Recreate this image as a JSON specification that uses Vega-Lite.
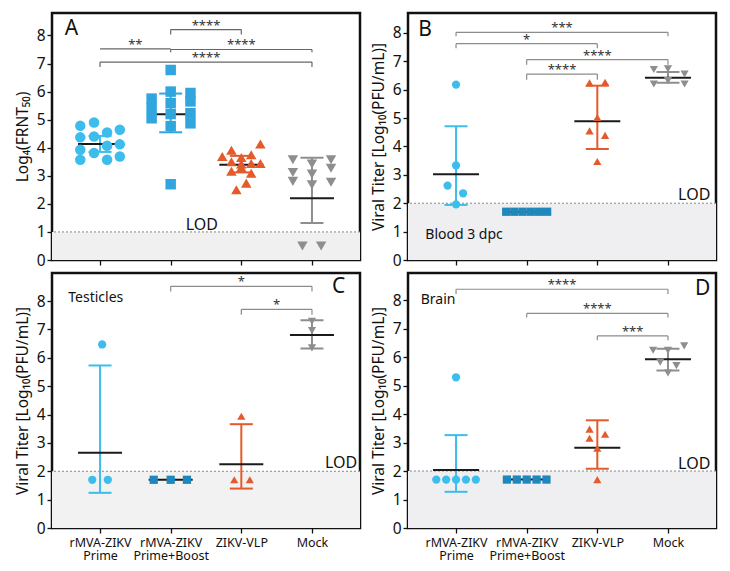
{
  "$schema": "https://vega.github.io/schema/vega-lite/v6.json",
  "padding": {"left": 13, "top": 11, "right": 5, "bottom": 5},
  "config": {
    "font": "Noto Sans",
    "view": {"stroke": "#111", "strokeWidth": 2.5},
    "axis": {"grid": false, "domain": false, "tickColor": "#111", "tickWidth": 1.3, "tickSize": 5, "labelColor": "#111", "titleColor": "#111", "labelFont": "Noto Sans", "titleFont": "Noto Sans", "titleFontWeight": "normal", "labelOverlap": false},
    "axisY": {"labelFontSize": 15.5, "titleFontSize": 15.5, "labelPadding": 2, "titlePadding": 6, "tickCount": 9},
    "axisX": {"labelFontSize": 12.5, "labelAngle": 0, "labelPadding": 3, "labelLineHeight": 13.5, "labelBaseline": "top", "labelFlush": false},
    "text": {"font": "Noto Sans", "color": "#111"}
  },
  "datasets": {
    "lod": [{"p": "A", "base": 0, "lod": 1}, {"p": "B", "base": 0, "lod": 2}, {"p": "C", "base": 0, "lod": 2}, {"p": "D", "base": 0, "lod": 2}],
    "pts": [
      {"p": "A", "g": "rMVA-ZIKV Prime", "v": 4.78, "dx": -0.28},
      {"p": "A", "g": "rMVA-ZIKV Prime", "v": 4.37, "dx": -0.28},
      {"p": "A", "g": "rMVA-ZIKV Prime", "v": 3.93, "dx": -0.28},
      {"p": "A", "g": "rMVA-ZIKV Prime", "v": 3.57, "dx": -0.28},
      {"p": "A", "g": "rMVA-ZIKV Prime", "v": 4.9, "dx": -0.085},
      {"p": "A", "g": "rMVA-ZIKV Prime", "v": 4.4, "dx": -0.085},
      {"p": "A", "g": "rMVA-ZIKV Prime", "v": 3.81, "dx": -0.085},
      {"p": "A", "g": "rMVA-ZIKV Prime", "v": 4.54, "dx": 0.1},
      {"p": "A", "g": "rMVA-ZIKV Prime", "v": 4.07, "dx": 0.1},
      {"p": "A", "g": "rMVA-ZIKV Prime", "v": 3.57, "dx": 0.1},
      {"p": "A", "g": "rMVA-ZIKV Prime", "v": 4.64, "dx": 0.28},
      {"p": "A", "g": "rMVA-ZIKV Prime", "v": 4.12, "dx": 0.28},
      {"p": "A", "g": "rMVA-ZIKV Prime", "v": 3.69, "dx": 0.28},
      {"p": "A", "g": "rMVA-ZIKV Prime+Boost", "v": 5.75, "dx": -0.27},
      {"p": "A", "g": "rMVA-ZIKV Prime+Boost", "v": 5.41, "dx": -0.27},
      {"p": "A", "g": "rMVA-ZIKV Prime+Boost", "v": 5.05, "dx": -0.27},
      {"p": "A", "g": "rMVA-ZIKV Prime+Boost", "v": 6.77, "dx": 0},
      {"p": "A", "g": "rMVA-ZIKV Prime+Boost", "v": 6.0, "dx": 0},
      {"p": "A", "g": "rMVA-ZIKV Prime+Boost", "v": 5.59, "dx": 0},
      {"p": "A", "g": "rMVA-ZIKV Prime+Boost", "v": 5.2, "dx": 0},
      {"p": "A", "g": "rMVA-ZIKV Prime+Boost", "v": 4.77, "dx": 0},
      {"p": "A", "g": "rMVA-ZIKV Prime+Boost", "v": 2.7, "dx": 0},
      {"p": "A", "g": "rMVA-ZIKV Prime+Boost", "v": 5.95, "dx": 0.28},
      {"p": "A", "g": "rMVA-ZIKV Prime+Boost", "v": 5.65, "dx": 0.28},
      {"p": "A", "g": "rMVA-ZIKV Prime+Boost", "v": 5.23, "dx": 0.28},
      {"p": "A", "g": "rMVA-ZIKV Prime+Boost", "v": 4.87, "dx": 0.28},
      {"p": "A", "g": "ZIKV-VLP", "v": 3.69, "dx": -0.27},
      {"p": "A", "g": "ZIKV-VLP", "v": 3.91, "dx": -0.14},
      {"p": "A", "g": "ZIKV-VLP", "v": 3.65, "dx": 0},
      {"p": "A", "g": "ZIKV-VLP", "v": 3.75, "dx": 0.14},
      {"p": "A", "g": "ZIKV-VLP", "v": 4.13, "dx": 0.27},
      {"p": "A", "g": "ZIKV-VLP", "v": 3.5, "dx": -0.14},
      {"p": "A", "g": "ZIKV-VLP", "v": 3.42, "dx": 0},
      {"p": "A", "g": "ZIKV-VLP", "v": 3.44, "dx": 0.14},
      {"p": "A", "g": "ZIKV-VLP", "v": 3.44, "dx": 0.27},
      {"p": "A", "g": "ZIKV-VLP", "v": 3.16, "dx": -0.14},
      {"p": "A", "g": "ZIKV-VLP", "v": 3.3, "dx": 0},
      {"p": "A", "g": "ZIKV-VLP", "v": 3.09, "dx": 0.14},
      {"p": "A", "g": "ZIKV-VLP", "v": 2.74, "dx": 0.07},
      {"p": "A", "g": "ZIKV-VLP", "v": 2.5, "dx": -0.07},
      {"p": "A", "g": "Mock", "v": 3.57, "dx": -0.27},
      {"p": "A", "g": "Mock", "v": 3.12, "dx": -0.27},
      {"p": "A", "g": "Mock", "v": 2.8, "dx": -0.27},
      {"p": "A", "g": "Mock", "v": 3.42, "dx": 0},
      {"p": "A", "g": "Mock", "v": 3.06, "dx": 0},
      {"p": "A", "g": "Mock", "v": 2.68, "dx": 0},
      {"p": "A", "g": "Mock", "v": 3.57, "dx": 0.27},
      {"p": "A", "g": "Mock", "v": 3.27, "dx": 0.27},
      {"p": "A", "g": "Mock", "v": 2.77, "dx": 0.27},
      {"p": "A", "g": "Mock", "v": 0.5, "dx": -0.135},
      {"p": "A", "g": "Mock", "v": 0.5, "dx": 0.13},
      {"p": "B", "g": "rMVA-ZIKV Prime", "v": 6.18, "dx": 0},
      {"p": "B", "g": "rMVA-ZIKV Prime", "v": 3.33, "dx": 0},
      {"p": "B", "g": "rMVA-ZIKV Prime", "v": 2.62, "dx": -0.12},
      {"p": "B", "g": "rMVA-ZIKV Prime", "v": 2.35, "dx": 0.1},
      {"p": "B", "g": "rMVA-ZIKV Prime", "v": 1.96, "dx": 0},
      {"p": "B", "g": "rMVA-ZIKV Prime+Boost", "v": 1.7, "dx": -0.29},
      {"p": "B", "g": "rMVA-ZIKV Prime+Boost", "v": 1.7, "dx": -0.175},
      {"p": "B", "g": "rMVA-ZIKV Prime+Boost", "v": 1.7, "dx": -0.058},
      {"p": "B", "g": "rMVA-ZIKV Prime+Boost", "v": 1.7, "dx": 0.058},
      {"p": "B", "g": "rMVA-ZIKV Prime+Boost", "v": 1.7, "dx": 0.175},
      {"p": "B", "g": "rMVA-ZIKV Prime+Boost", "v": 1.7, "dx": 0.29},
      {"p": "B", "g": "ZIKV-VLP", "v": 6.24, "dx": -0.11},
      {"p": "B", "g": "ZIKV-VLP", "v": 6.26, "dx": 0.11},
      {"p": "B", "g": "ZIKV-VLP", "v": 5.02, "dx": 0},
      {"p": "B", "g": "ZIKV-VLP", "v": 4.55, "dx": -0.11},
      {"p": "B", "g": "ZIKV-VLP", "v": 4.39, "dx": 0.11},
      {"p": "B", "g": "ZIKV-VLP", "v": 3.47, "dx": 0},
      {"p": "B", "g": "Mock", "v": 6.71, "dx": -0.2},
      {"p": "B", "g": "Mock", "v": 6.73, "dx": 0},
      {"p": "B", "g": "Mock", "v": 6.55, "dx": 0.235},
      {"p": "B", "g": "Mock", "v": 6.2, "dx": -0.2},
      {"p": "B", "g": "Mock", "v": 6.32, "dx": 0},
      {"p": "B", "g": "Mock", "v": 6.2, "dx": 0.235},
      {"p": "C", "g": "rMVA-ZIKV Prime", "v": 1.7, "dx": -0.11},
      {"p": "C", "g": "rMVA-ZIKV Prime", "v": 1.7, "dx": 0.11},
      {"p": "C", "g": "rMVA-ZIKV Prime", "v": 6.47, "dx": 0.03},
      {"p": "C", "g": "rMVA-ZIKV Prime+Boost", "v": 1.7, "dx": -0.24},
      {"p": "C", "g": "rMVA-ZIKV Prime+Boost", "v": 1.7, "dx": 0},
      {"p": "C", "g": "rMVA-ZIKV Prime+Boost", "v": 1.7, "dx": 0.23},
      {"p": "C", "g": "ZIKV-VLP", "v": 3.94, "dx": 0},
      {"p": "C", "g": "ZIKV-VLP", "v": 1.7, "dx": -0.1},
      {"p": "C", "g": "ZIKV-VLP", "v": 1.7, "dx": 0.12},
      {"p": "C", "g": "Mock", "v": 7.29, "dx": 0},
      {"p": "C", "g": "Mock", "v": 6.96, "dx": 0},
      {"p": "C", "g": "Mock", "v": 6.35, "dx": 0},
      {"p": "D", "g": "rMVA-ZIKV Prime", "v": 1.7, "dx": -0.28},
      {"p": "D", "g": "rMVA-ZIKV Prime", "v": 1.7, "dx": -0.14},
      {"p": "D", "g": "rMVA-ZIKV Prime", "v": 1.7, "dx": 0},
      {"p": "D", "g": "rMVA-ZIKV Prime", "v": 1.7, "dx": 0.14},
      {"p": "D", "g": "rMVA-ZIKV Prime", "v": 1.7, "dx": 0.28},
      {"p": "D", "g": "rMVA-ZIKV Prime", "v": 5.29, "dx": 0},
      {"p": "D", "g": "rMVA-ZIKV Prime+Boost", "v": 1.7, "dx": -0.28},
      {"p": "D", "g": "rMVA-ZIKV Prime+Boost", "v": 1.7, "dx": -0.14},
      {"p": "D", "g": "rMVA-ZIKV Prime+Boost", "v": 1.7, "dx": 0},
      {"p": "D", "g": "rMVA-ZIKV Prime+Boost", "v": 1.7, "dx": 0.14},
      {"p": "D", "g": "rMVA-ZIKV Prime+Boost", "v": 1.7, "dx": 0.28},
      {"p": "D", "g": "ZIKV-VLP", "v": 3.47, "dx": -0.11},
      {"p": "D", "g": "ZIKV-VLP", "v": 3.15, "dx": -0.11},
      {"p": "D", "g": "ZIKV-VLP", "v": 3.29, "dx": 0.11},
      {"p": "D", "g": "ZIKV-VLP", "v": 2.8, "dx": 0},
      {"p": "D", "g": "ZIKV-VLP", "v": 1.7, "dx": 0},
      {"p": "D", "g": "Mock", "v": 6.24, "dx": -0.21},
      {"p": "D", "g": "Mock", "v": 6.24, "dx": 0},
      {"p": "D", "g": "Mock", "v": 6.39, "dx": 0.23},
      {"p": "D", "g": "Mock", "v": 5.82, "dx": -0.11},
      {"p": "D", "g": "Mock", "v": 5.7, "dx": 0.12},
      {"p": "D", "g": "Mock", "v": 5.44, "dx": 0}
    ],
    "stats": [
      {"p": "A", "g": "rMVA-ZIKV Prime", "v": 4.13, "lo": 3.85, "hi": 4.42},
      {"p": "A", "g": "rMVA-ZIKV Prime+Boost", "v": 5.19, "lo": 4.55, "hi": 5.93},
      {"p": "A", "g": "ZIKV-VLP", "v": 3.39, "lo": 3.12, "hi": 3.71},
      {"p": "A", "g": "Mock", "v": 2.2, "lo": 1.32, "hi": 3.64},
      {"p": "B", "g": "rMVA-ZIKV Prime", "v": 3.02, "lo": 1.94, "hi": 4.71},
      {"p": "B", "g": "rMVA-ZIKV Prime+Boost", "v": 1.7, "lo": null, "hi": null},
      {"p": "B", "g": "ZIKV-VLP", "v": 4.89, "lo": 3.91, "hi": 6.14},
      {"p": "B", "g": "Mock", "v": 6.42, "lo": 6.24, "hi": 6.62},
      {"p": "C", "g": "rMVA-ZIKV Prime", "v": 2.65, "lo": 1.24, "hi": 5.73},
      {"p": "C", "g": "rMVA-ZIKV Prime+Boost", "v": 1.7, "lo": null, "hi": null},
      {"p": "C", "g": "ZIKV-VLP", "v": 2.25, "lo": 1.39, "hi": 3.66},
      {"p": "C", "g": "Mock", "v": 6.8, "lo": 6.33, "hi": 7.32},
      {"p": "D", "g": "rMVA-ZIKV Prime", "v": 2.04, "lo": 1.27, "hi": 3.26},
      {"p": "D", "g": "rMVA-ZIKV Prime+Boost", "v": 1.7, "lo": null, "hi": null},
      {"p": "D", "g": "ZIKV-VLP", "v": 2.82, "lo": 2.08, "hi": 3.78},
      {"p": "D", "g": "Mock", "v": 5.92, "lo": 5.53, "hi": 6.29}
    ],
    "br": [
      {"p": "A", "g": "rMVA-ZIKV Prime", "g2": "rMVA-ZIKV Prime+Boost", "v": 7.52, "e": 7.52, "s": "**"},
      {"p": "A", "g": "rMVA-ZIKV Prime+Boost", "g2": "ZIKV-VLP", "v": 8.21, "e": 8.03, "s": "****"},
      {"p": "A", "g": "rMVA-ZIKV Prime+Boost", "g2": "Mock", "v": 7.5, "e": 7.4, "s": "****"},
      {"p": "A", "g": "rMVA-ZIKV Prime", "g2": "Mock", "v": 7.05, "e": 6.88, "s": "****"},
      {"p": "B", "g": "rMVA-ZIKV Prime", "g2": "Mock", "v": 8.02, "e": 7.88, "s": "***"},
      {"p": "B", "g": "rMVA-ZIKV Prime", "g2": "ZIKV-VLP", "v": 7.62, "e": 7.46, "s": "*"},
      {"p": "B", "g": "rMVA-ZIKV Prime+Boost", "g2": "Mock", "v": 7.06, "e": 6.88, "s": "****"},
      {"p": "B", "g": "rMVA-ZIKV Prime+Boost", "g2": "ZIKV-VLP", "v": 6.55, "e": 6.35, "s": "****"},
      {"p": "C", "g": "rMVA-ZIKV Prime+Boost", "g2": "Mock", "v": 8.52, "e": 8.34, "s": "*"},
      {"p": "C", "g": "ZIKV-VLP", "g2": "Mock", "v": 7.71, "e": 7.52, "s": "*"},
      {"p": "D", "g": "rMVA-ZIKV Prime", "g2": "Mock", "v": 8.38, "e": 8.21, "s": "****"},
      {"p": "D", "g": "rMVA-ZIKV Prime+Boost", "g2": "Mock", "v": 7.53, "e": 7.39, "s": "****"},
      {"p": "D", "g": "ZIKV-VLP", "g2": "Mock", "v": 6.74, "e": 6.59, "s": "***"}
    ]
  },
  "spacing": 1,
  "resolve": {"scale": {"x": "independent", "y": "independent", "color": "independent", "shape": "independent"}},
  "vconcat": [
    {
      "hconcat": [
        {
          "width": 308, "height": 247,
          "layer": [
            {"data": {"name": "lod"}, "transform": [{"filter": "datum.p == 'A'"}], "mark": {"type": "rect", "color": "#f0f0f0"},
             "encoding": {"y": {"field": "base", "type": "quantitative", "scale": {"domain": [0, 8.8], "nice": false}, "axis": {"values": [0, 1, 2, 3, 4, 5, 6, 7, 8], "title": "Log₄(FRNT₅₀)"}}, "y2": {"field": "lod"}}},
            {"data": {"name": "lod"}, "transform": [{"filter": "datum.p == 'A'"}], "mark": {"type": "rule", "color": "#888", "strokeDash": [2, 2], "strokeWidth": 1},
             "encoding": {"y": {"field": "lod", "type": "quantitative", "axis": {"values": [0, 1, 2, 3, 4, 5, 6, 7, 8], "title": "Log₄(FRNT₅₀)"}}}},
            {
              "encoding": {
                "x": {"field": "x", "type": "quantitative", "scale": {"domain": [-0.68, 3.68], "nice": false, "zero": false}, "axis": {"values": [0, 1, 2, 3], "labels": false, "title": null}},
                "y": {"field": "v", "type": "quantitative", "scale": {"domain": [0, 8.8], "nice": false}, "axis": {"values": [0, 1, 2, 3, 4, 5, 6, 7, 8], "title": "Log₄(FRNT₅₀)"}}
              },
              "layer": [
                {"data": {"name": "stats"}, "transform": [{"filter": "datum.p == 'A' && isValid(datum.lo)"}, {"calculate": "indexof(['rMVA-ZIKV Prime','rMVA-ZIKV Prime+Boost','ZIKV-VLP','Mock'], datum.g)", "as": "x"}],
                 "mark": {"type": "rule", "strokeWidth": 2},
                 "encoding": {"y": {"field": "lo", "type": "quantitative"}, "y2": {"field": "hi"},
                   "color": {"field": "g", "type": "nominal", "scale": {"domain": ["rMVA-ZIKV Prime", "rMVA-ZIKV Prime+Boost", "ZIKV-VLP", "Mock"], "range": ["#3dbdec", "#31a5de", "#e55a2b", "#8e8e8e"]}, "legend": null}}},
                {"data": {"name": "stats"}, "transform": [{"filter": "datum.p == 'A' && isValid(datum.lo)"}, {"calculate": "indexof(['rMVA-ZIKV Prime','rMVA-ZIKV Prime+Boost','ZIKV-VLP','Mock'], datum.g)", "as": "x"}],
                 "mark": {"type": "tick", "orient": "horizontal", "size": 23, "thickness": 2, "opacity": 1},
                 "encoding": {"y": {"field": "lo", "type": "quantitative"}, "color": {"field": "g", "type": "nominal", "legend": null}}},
                {"data": {"name": "stats"}, "transform": [{"filter": "datum.p == 'A' && isValid(datum.lo)"}, {"calculate": "indexof(['rMVA-ZIKV Prime','rMVA-ZIKV Prime+Boost','ZIKV-VLP','Mock'], datum.g)", "as": "x"}],
                 "mark": {"type": "tick", "orient": "horizontal", "size": 23, "thickness": 2, "opacity": 1},
                 "encoding": {"y": {"field": "hi", "type": "quantitative"}, "color": {"field": "g", "type": "nominal", "legend": null}}},
                {"data": {"name": "stats"}, "transform": [{"filter": "datum.p == 'A'"}, {"calculate": "indexof(['rMVA-ZIKV Prime','rMVA-ZIKV Prime+Boost','ZIKV-VLP','Mock'], datum.g)", "as": "x"}],
                 "mark": {"type": "tick", "orient": "horizontal", "size": 44, "thickness": 2, "color": "#1a1a1a", "opacity": 1}},
                {"data": {"name": "pts"}, "transform": [{"filter": "datum.p == 'A'"}, {"calculate": "indexof(['rMVA-ZIKV Prime','rMVA-ZIKV Prime+Boost','ZIKV-VLP','Mock'], datum.g) + datum.dx", "as": "x"}],
                 "mark": {"type": "point", "filled": true, "opacity": 1, "size": 110},
                 "encoding": {
                   "color": {"field": "g", "type": "nominal", "legend": null},
                   "shape": {"field": "g", "type": "nominal", "scale": {"domain": ["rMVA-ZIKV Prime", "rMVA-ZIKV Prime+Boost", "ZIKV-VLP", "Mock"], "range": ["circle", "square", "triangle-up", "triangle-down"]}, "legend": null}}},
                {"data": {"name": "br"}, "transform": [{"filter": "datum.p == 'A'"}, {"calculate": "indexof(['rMVA-ZIKV Prime','rMVA-ZIKV Prime+Boost','ZIKV-VLP','Mock'], datum.g)", "as": "x"}, {"calculate": "indexof(['rMVA-ZIKV Prime','rMVA-ZIKV Prime+Boost','ZIKV-VLP','Mock'], datum.g2)", "as": "xe"}, {"calculate": "(datum.x + datum.xe) / 2", "as": "xm"}],
                 "layer": [
                   {"mark": {"type": "rule", "color": "#666", "strokeWidth": 1.2}, "encoding": {"x2": {"field": "xe"}}},
                   {"mark": {"type": "rule", "color": "#666", "strokeWidth": 1.2}, "encoding": {"y2": {"field": "e"}}},
                   {"mark": {"type": "rule", "color": "#666", "strokeWidth": 1.2}, "encoding": {"x": {"field": "xe", "type": "quantitative"}, "y2": {"field": "e"}}},
                   {"mark": {"type": "text", "fontSize": 13, "color": "#333", "baseline": "alphabetic"}, "encoding": {"x": {"field": "xm", "type": "quantitative"}, "text": {"field": "s"}}}
                 ]}
              ]
            },
            {"data": {"name": "lod"}, "transform": [{"filter": "datum.p == 'A'"}],
             "layer": [
               {"mark": {"type": "text", "text": "A", "fontSize": 21, "align": "left", "baseline": "alphabetic"},
                "encoding": {"x": {"datum": -0.5, "type": "quantitative"}, "y": {"datum": 8.0, "type": "quantitative"}}},
               {"mark": {"type": "text", "text": "LOD", "fontSize": 16, "align": "center", "baseline": "alphabetic"},
                "encoding": {"x": {"datum": 1.44, "type": "quantitative"}, "y": {"datum": 1.07, "type": "quantitative"}}}
             ]}
          ]
        },
        {
          "width": 308, "height": 247,
          "layer": [
            {"data": {"name": "lod"}, "transform": [{"filter": "datum.p == 'B'"}], "mark": {"type": "rect", "color": "#efeff1"},
             "encoding": {"y": {"field": "base", "type": "quantitative", "scale": {"domain": [0, 8.7], "nice": false}, "axis": {"values": [0, 1, 2, 3, 4, 5, 6, 7, 8], "title": "Viral Titer [Log₁₀(PFU/mL)]"}}, "y2": {"field": "lod"}}},
            {"data": {"name": "lod"}, "transform": [{"filter": "datum.p == 'B'"}], "mark": {"type": "rule", "color": "#888", "strokeDash": [2, 2], "strokeWidth": 1},
             "encoding": {"y": {"field": "lod", "type": "quantitative", "axis": {"values": [0, 1, 2, 3, 4, 5, 6, 7, 8], "title": "Viral Titer [Log₁₀(PFU/mL)]"}}}},
            {
              "encoding": {
                "x": {"field": "x", "type": "quantitative", "scale": {"domain": [-0.68, 3.68], "nice": false, "zero": false}, "axis": {"values": [0, 1, 2, 3], "labels": false, "title": null}},
                "y": {"field": "v", "type": "quantitative", "scale": {"domain": [0, 8.7], "nice": false}, "axis": {"values": [0, 1, 2, 3, 4, 5, 6, 7, 8], "title": "Viral Titer [Log₁₀(PFU/mL)]"}}
              },
              "layer": [
                {"data": {"name": "stats"}, "transform": [{"filter": "datum.p == 'B' && isValid(datum.lo)"}, {"calculate": "indexof(['rMVA-ZIKV Prime','rMVA-ZIKV Prime+Boost','ZIKV-VLP','Mock'], datum.g)", "as": "x"}],
                 "mark": {"type": "rule", "strokeWidth": 2},
                 "encoding": {"y": {"field": "lo", "type": "quantitative"}, "y2": {"field": "hi"},
                   "color": {"field": "g", "type": "nominal", "scale": {"domain": ["rMVA-ZIKV Prime", "rMVA-ZIKV Prime+Boost", "ZIKV-VLP", "Mock"], "range": ["#3dbdec", "#1e87bc", "#e55a2b", "#8e8e8e"]}, "legend": null}}},
                {"data": {"name": "stats"}, "transform": [{"filter": "datum.p == 'B' && isValid(datum.lo)"}, {"calculate": "indexof(['rMVA-ZIKV Prime','rMVA-ZIKV Prime+Boost','ZIKV-VLP','Mock'], datum.g)", "as": "x"}],
                 "mark": {"type": "tick", "orient": "horizontal", "size": 23, "thickness": 2, "opacity": 1},
                 "encoding": {"y": {"field": "lo", "type": "quantitative"}, "color": {"field": "g", "type": "nominal", "legend": null}}},
                {"data": {"name": "stats"}, "transform": [{"filter": "datum.p == 'B' && isValid(datum.lo)"}, {"calculate": "indexof(['rMVA-ZIKV Prime','rMVA-ZIKV Prime+Boost','ZIKV-VLP','Mock'], datum.g)", "as": "x"}],
                 "mark": {"type": "tick", "orient": "horizontal", "size": 23, "thickness": 2, "opacity": 1},
                 "encoding": {"y": {"field": "hi", "type": "quantitative"}, "color": {"field": "g", "type": "nominal", "legend": null}}},
                {"data": {"name": "stats"}, "transform": [{"filter": "datum.p == 'B'"}, {"calculate": "indexof(['rMVA-ZIKV Prime','rMVA-ZIKV Prime+Boost','ZIKV-VLP','Mock'], datum.g)", "as": "x"}],
                 "mark": {"type": "tick", "orient": "horizontal", "size": 46, "thickness": 2, "color": "#1a1a1a", "opacity": 1}},
                {"data": {"name": "pts"}, "transform": [{"filter": "datum.p == 'B'"}, {"calculate": "indexof(['rMVA-ZIKV Prime','rMVA-ZIKV Prime+Boost','ZIKV-VLP','Mock'], datum.g) + datum.dx", "as": "x"}],
                 "mark": {"type": "point", "filled": true, "opacity": 1, "size": 68},
                 "encoding": {
                   "color": {"field": "g", "type": "nominal", "legend": null},
                   "shape": {"field": "g", "type": "nominal", "scale": {"domain": ["rMVA-ZIKV Prime", "rMVA-ZIKV Prime+Boost", "ZIKV-VLP", "Mock"], "range": ["circle", "square", "triangle-up", "triangle-down"]}, "legend": null}}},
                {"data": {"name": "br"}, "transform": [{"filter": "datum.p == 'B'"}, {"calculate": "indexof(['rMVA-ZIKV Prime','rMVA-ZIKV Prime+Boost','ZIKV-VLP','Mock'], datum.g)", "as": "x"}, {"calculate": "indexof(['rMVA-ZIKV Prime','rMVA-ZIKV Prime+Boost','ZIKV-VLP','Mock'], datum.g2)", "as": "xe"}, {"calculate": "(datum.x + datum.xe) / 2", "as": "xm"}],
                 "layer": [
                   {"mark": {"type": "rule", "color": "#8c8c8c", "strokeWidth": 1.2}, "encoding": {"x2": {"field": "xe"}}},
                   {"mark": {"type": "rule", "color": "#8c8c8c", "strokeWidth": 1.2}, "encoding": {"y2": {"field": "e"}}},
                   {"mark": {"type": "rule", "color": "#8c8c8c", "strokeWidth": 1.2}, "encoding": {"x": {"field": "xe", "type": "quantitative"}, "y2": {"field": "e"}}},
                   {"mark": {"type": "text", "fontSize": 13, "color": "#333", "baseline": "alphabetic"}, "encoding": {"x": {"field": "xm", "type": "quantitative"}, "text": {"field": "s"}}}
                 ]}
              ]
            },
            {"data": {"name": "lod"}, "transform": [{"filter": "datum.p == 'B'"}],
             "layer": [
               {"mark": {"type": "text", "text": "B", "fontSize": 21, "align": "left", "baseline": "alphabetic"},
                "encoding": {"x": {"datum": -0.535, "type": "quantitative"}, "y": {"datum": 7.89, "type": "quantitative"}}},
               {"mark": {"type": "text", "text": "LOD", "fontSize": 16, "align": "right", "baseline": "alphabetic"},
                "encoding": {"x": {"datum": 3.6, "type": "quantitative"}, "y": {"datum": 2.12, "type": "quantitative"}}},
               {"mark": {"type": "text", "text": "Blood 3 dpc", "fontSize": 14, "align": "left", "baseline": "alphabetic"},
                "encoding": {"x": {"datum": -0.435, "type": "quantitative"}, "y": {"datum": 0.73, "type": "quantitative"}}}
             ]}
          ]
        }
      ],
      "spacing": 48,
      "bounds": "flush",
      "resolve": {"scale": {"x": "independent", "y": "independent", "color": "independent", "shape": "independent"}}
    },
    {
      "hconcat": [
        {
          "width": 308, "height": 255,
          "layer": [
            {"data": {"name": "lod"}, "transform": [{"filter": "datum.p == 'C'"}], "mark": {"type": "rect", "color": "#f2f2f2"},
             "encoding": {"y": {"field": "base", "type": "quantitative", "scale": {"domain": [0, 8.99], "nice": false}, "axis": {"values": [0, 1, 2, 3, 4, 5, 6, 7, 8], "title": "Viral Titer [Log₁₀(PFU/mL)]"}}, "y2": {"field": "lod"}}},
            {"data": {"name": "lod"}, "transform": [{"filter": "datum.p == 'C'"}], "mark": {"type": "rule", "color": "#888", "strokeDash": [2, 2], "strokeWidth": 1},
             "encoding": {"y": {"field": "lod", "type": "quantitative", "axis": {"values": [0, 1, 2, 3, 4, 5, 6, 7, 8], "title": "Viral Titer [Log₁₀(PFU/mL)]"}}}},
            {
              "encoding": {
                "x": {"field": "x", "type": "quantitative", "scale": {"domain": [-0.68, 3.68], "nice": false, "zero": false}, "axis": {"values": [0, 1, 2, 3], "title": null, "labelExpr": "split(['rMVA-ZIKV Prime','rMVA-ZIKV Prime+Boost','ZIKV-VLP','Mock'][datum.value], ' ')"}},
                "y": {"field": "v", "type": "quantitative", "scale": {"domain": [0, 8.99], "nice": false}, "axis": {"values": [0, 1, 2, 3, 4, 5, 6, 7, 8], "title": "Viral Titer [Log₁₀(PFU/mL)]"}}
              },
              "layer": [
                {"data": {"name": "stats"}, "transform": [{"filter": "datum.p == 'C' && isValid(datum.lo)"}, {"calculate": "indexof(['rMVA-ZIKV Prime','rMVA-ZIKV Prime+Boost','ZIKV-VLP','Mock'], datum.g)", "as": "x"}],
                 "mark": {"type": "rule", "strokeWidth": 2},
                 "encoding": {"y": {"field": "lo", "type": "quantitative"}, "y2": {"field": "hi"},
                   "color": {"field": "g", "type": "nominal", "scale": {"domain": ["rMVA-ZIKV Prime", "rMVA-ZIKV Prime+Boost", "ZIKV-VLP", "Mock"], "range": ["#3dbdec", "#1e87bc", "#e55a2b", "#8e8e8e"]}, "legend": null}}},
                {"data": {"name": "stats"}, "transform": [{"filter": "datum.p == 'C' && isValid(datum.lo)"}, {"calculate": "indexof(['rMVA-ZIKV Prime','rMVA-ZIKV Prime+Boost','ZIKV-VLP','Mock'], datum.g)", "as": "x"}],
                 "mark": {"type": "tick", "orient": "horizontal", "size": 23, "thickness": 2, "opacity": 1},
                 "encoding": {"y": {"field": "lo", "type": "quantitative"}, "color": {"field": "g", "type": "nominal", "legend": null}}},
                {"data": {"name": "stats"}, "transform": [{"filter": "datum.p == 'C' && isValid(datum.lo)"}, {"calculate": "indexof(['rMVA-ZIKV Prime','rMVA-ZIKV Prime+Boost','ZIKV-VLP','Mock'], datum.g)", "as": "x"}],
                 "mark": {"type": "tick", "orient": "horizontal", "size": 23, "thickness": 2, "opacity": 1},
                 "encoding": {"y": {"field": "hi", "type": "quantitative"}, "color": {"field": "g", "type": "nominal", "legend": null}}},
                {"data": {"name": "stats"}, "transform": [{"filter": "datum.p == 'C'"}, {"calculate": "indexof(['rMVA-ZIKV Prime','rMVA-ZIKV Prime+Boost','ZIKV-VLP','Mock'], datum.g)", "as": "x"}],
                 "mark": {"type": "tick", "orient": "horizontal", "size": 44, "thickness": 2, "color": "#1a1a1a", "opacity": 1}},
                {"data": {"name": "pts"}, "transform": [{"filter": "datum.p == 'C'"}, {"calculate": "indexof(['rMVA-ZIKV Prime','rMVA-ZIKV Prime+Boost','ZIKV-VLP','Mock'], datum.g) + datum.dx", "as": "x"}],
                 "mark": {"type": "point", "filled": true, "opacity": 1, "size": 68},
                 "encoding": {
                   "color": {"field": "g", "type": "nominal", "legend": null},
                   "shape": {"field": "g", "type": "nominal", "scale": {"domain": ["rMVA-ZIKV Prime", "rMVA-ZIKV Prime+Boost", "ZIKV-VLP", "Mock"], "range": ["circle", "square", "triangle-up", "triangle-down"]}, "legend": null}}},
                {"data": {"name": "br"}, "transform": [{"filter": "datum.p == 'C'"}, {"calculate": "indexof(['rMVA-ZIKV Prime','rMVA-ZIKV Prime+Boost','ZIKV-VLP','Mock'], datum.g)", "as": "x"}, {"calculate": "indexof(['rMVA-ZIKV Prime','rMVA-ZIKV Prime+Boost','ZIKV-VLP','Mock'], datum.g2)", "as": "xe"}, {"calculate": "(datum.x + datum.xe) / 2", "as": "xm"}],
                 "layer": [
                   {"mark": {"type": "rule", "color": "#8c8c8c", "strokeWidth": 1.2}, "encoding": {"x2": {"field": "xe"}}},
                   {"mark": {"type": "rule", "color": "#8c8c8c", "strokeWidth": 1.2}, "encoding": {"y2": {"field": "e"}}},
                   {"mark": {"type": "rule", "color": "#8c8c8c", "strokeWidth": 1.2}, "encoding": {"x": {"field": "xe", "type": "quantitative"}, "y2": {"field": "e"}}},
                   {"mark": {"type": "text", "fontSize": 13, "color": "#333", "baseline": "alphabetic"}, "encoding": {"x": {"field": "xm", "type": "quantitative"}, "text": {"field": "s"}}}
                 ]}
              ]
            },
            {"data": {"name": "lod"}, "transform": [{"filter": "datum.p == 'C'"}],
             "layer": [
               {"mark": {"type": "text", "text": "C", "fontSize": 21, "align": "right", "baseline": "alphabetic"},
                "encoding": {"x": {"datum": 3.47, "type": "quantitative"}, "y": {"datum": 8.3, "type": "quantitative"}}},
               {"mark": {"type": "text", "text": "LOD", "fontSize": 16, "align": "right", "baseline": "alphabetic"},
                "encoding": {"x": {"datum": 3.64, "type": "quantitative"}, "y": {"datum": 2.13, "type": "quantitative"}}},
               {"mark": {"type": "text", "text": "Testicles", "fontSize": 14, "align": "left", "baseline": "alphabetic"},
                "encoding": {"x": {"datum": -0.45, "type": "quantitative"}, "y": {"datum": 7.95, "type": "quantitative"}}}
             ]}
          ]
        },
        {
          "width": 308, "height": 255,
          "layer": [
            {"data": {"name": "lod"}, "transform": [{"filter": "datum.p == 'D'"}], "mark": {"type": "rect", "color": "#efeff1"},
             "encoding": {"y": {"field": "base", "type": "quantitative", "scale": {"domain": [0, 8.95], "nice": false}, "axis": {"values": [0, 1, 2, 3, 4, 5, 6, 7, 8], "title": "Viral Titer [Log₁₀(PFU/mL)]"}}, "y2": {"field": "lod"}}},
            {"data": {"name": "lod"}, "transform": [{"filter": "datum.p == 'D'"}], "mark": {"type": "rule", "color": "#888", "strokeDash": [2, 2], "strokeWidth": 1},
             "encoding": {"y": {"field": "lod", "type": "quantitative", "axis": {"values": [0, 1, 2, 3, 4, 5, 6, 7, 8], "title": "Viral Titer [Log₁₀(PFU/mL)]"}}}},
            {
              "encoding": {
                "x": {"field": "x", "type": "quantitative", "scale": {"domain": [-0.68, 3.68], "nice": false, "zero": false}, "axis": {"values": [0, 1, 2, 3], "title": null, "labelExpr": "split(['rMVA-ZIKV Prime','rMVA-ZIKV Prime+Boost','ZIKV-VLP','Mock'][datum.value], ' ')"}},
                "y": {"field": "v", "type": "quantitative", "scale": {"domain": [0, 8.95], "nice": false}, "axis": {"values": [0, 1, 2, 3, 4, 5, 6, 7, 8], "title": "Viral Titer [Log₁₀(PFU/mL)]"}}
              },
              "layer": [
                {"data": {"name": "stats"}, "transform": [{"filter": "datum.p == 'D' && isValid(datum.lo)"}, {"calculate": "indexof(['rMVA-ZIKV Prime','rMVA-ZIKV Prime+Boost','ZIKV-VLP','Mock'], datum.g)", "as": "x"}],
                 "mark": {"type": "rule", "strokeWidth": 2},
                 "encoding": {"y": {"field": "lo", "type": "quantitative"}, "y2": {"field": "hi"},
                   "color": {"field": "g", "type": "nominal", "scale": {"domain": ["rMVA-ZIKV Prime", "rMVA-ZIKV Prime+Boost", "ZIKV-VLP", "Mock"], "range": ["#3dbdec", "#1e87bc", "#e55a2b", "#8e8e8e"]}, "legend": null}}},
                {"data": {"name": "stats"}, "transform": [{"filter": "datum.p == 'D' && isValid(datum.lo)"}, {"calculate": "indexof(['rMVA-ZIKV Prime','rMVA-ZIKV Prime+Boost','ZIKV-VLP','Mock'], datum.g)", "as": "x"}],
                 "mark": {"type": "tick", "orient": "horizontal", "size": 23, "thickness": 2, "opacity": 1},
                 "encoding": {"y": {"field": "lo", "type": "quantitative"}, "color": {"field": "g", "type": "nominal", "legend": null}}},
                {"data": {"name": "stats"}, "transform": [{"filter": "datum.p == 'D' && isValid(datum.lo)"}, {"calculate": "indexof(['rMVA-ZIKV Prime','rMVA-ZIKV Prime+Boost','ZIKV-VLP','Mock'], datum.g)", "as": "x"}],
                 "mark": {"type": "tick", "orient": "horizontal", "size": 23, "thickness": 2, "opacity": 1},
                 "encoding": {"y": {"field": "hi", "type": "quantitative"}, "color": {"field": "g", "type": "nominal", "legend": null}}},
                {"data": {"name": "stats"}, "transform": [{"filter": "datum.p == 'D'"}, {"calculate": "indexof(['rMVA-ZIKV Prime','rMVA-ZIKV Prime+Boost','ZIKV-VLP','Mock'], datum.g)", "as": "x"}],
                 "mark": {"type": "tick", "orient": "horizontal", "size": 46, "thickness": 2, "color": "#1a1a1a", "opacity": 1}},
                {"data": {"name": "pts"}, "transform": [{"filter": "datum.p == 'D'"}, {"calculate": "indexof(['rMVA-ZIKV Prime','rMVA-ZIKV Prime+Boost','ZIKV-VLP','Mock'], datum.g) + datum.dx", "as": "x"}],
                 "mark": {"type": "point", "filled": true, "opacity": 1, "size": 68},
                 "encoding": {
                   "color": {"field": "g", "type": "nominal", "legend": null},
                   "shape": {"field": "g", "type": "nominal", "scale": {"domain": ["rMVA-ZIKV Prime", "rMVA-ZIKV Prime+Boost", "ZIKV-VLP", "Mock"], "range": ["circle", "square", "triangle-up", "triangle-down"]}, "legend": null}}},
                {"data": {"name": "br"}, "transform": [{"filter": "datum.p == 'D'"}, {"calculate": "indexof(['rMVA-ZIKV Prime','rMVA-ZIKV Prime+Boost','ZIKV-VLP','Mock'], datum.g)", "as": "x"}, {"calculate": "indexof(['rMVA-ZIKV Prime','rMVA-ZIKV Prime+Boost','ZIKV-VLP','Mock'], datum.g2)", "as": "xe"}, {"calculate": "(datum.x + datum.xe) / 2", "as": "xm"}],
                 "layer": [
                   {"mark": {"type": "rule", "color": "#8c8c8c", "strokeWidth": 1.2}, "encoding": {"x2": {"field": "xe"}}},
                   {"mark": {"type": "rule", "color": "#8c8c8c", "strokeWidth": 1.2}, "encoding": {"y2": {"field": "e"}}},
                   {"mark": {"type": "rule", "color": "#8c8c8c", "strokeWidth": 1.2}, "encoding": {"x": {"field": "xe", "type": "quantitative"}, "y2": {"field": "e"}}},
                   {"mark": {"type": "text", "fontSize": 13, "color": "#333", "baseline": "alphabetic"}, "encoding": {"x": {"field": "xm", "type": "quantitative"}, "text": {"field": "s"}}}
                 ]}
              ]
            },
            {"data": {"name": "lod"}, "transform": [{"filter": "datum.p == 'D'"}],
             "layer": [
               {"mark": {"type": "text", "text": "D", "fontSize": 21, "align": "right", "baseline": "alphabetic"},
                "encoding": {"x": {"datum": 3.6, "type": "quantitative"}, "y": {"datum": 8.19, "type": "quantitative"}}},
               {"mark": {"type": "text", "text": "LOD", "fontSize": 16, "align": "right", "baseline": "alphabetic"},
                "encoding": {"x": {"datum": 3.6, "type": "quantitative"}, "y": {"datum": 2.08, "type": "quantitative"}}},
               {"mark": {"type": "text", "text": "Brain", "fontSize": 14, "align": "left", "baseline": "alphabetic"},
                "encoding": {"x": {"datum": -0.5, "type": "quantitative"}, "y": {"datum": 7.87, "type": "quantitative"}}}
             ]}
          ]
        }
      ],
      "spacing": 48,
      "bounds": "flush",
      "resolve": {"scale": {"x": "independent", "y": "independent", "color": "independent", "shape": "independent"}}
    }
  ]
}
